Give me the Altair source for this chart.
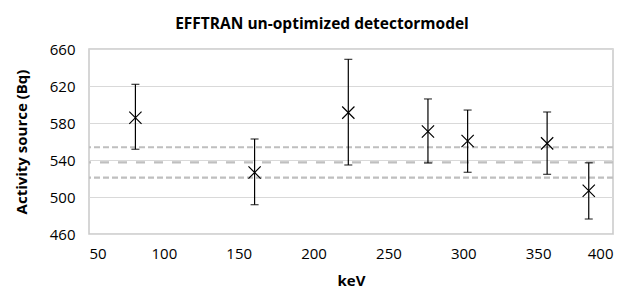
import altair as alt
import pandas as pd

energy = [81.0, 160.6, 223.2, 276.4, 302.9, 356.0, 383.8]
activity = [585.7, 526.5, 591.2, 570.8, 560.5, 558.0, 506.8]
err_low = [551.6, 491.7, 534.6, 536.8, 526.7, 524.5, 476.2]
err_high = [621.8, 562.7, 648.8, 606.0, 594.0, 591.9, 537.0]

ref_names = ["upper", "mean", "lower"]
ref_values = [553.8, 537.5, 521.0]
ref_dash = [[6, 3], [9, 9], [6, 3]]

df = pd.DataFrame({"keV": energy, "act": activity, "lo": err_low, "hi": err_high})
ref = pd.DataFrame({"name": ref_names, "v": ref_values})

FONT = "Open Sans"
YS = alt.Scale(domain=[460, 660], nice=False, zero=False)
XS = alt.Scale(domain=[50, 400], nice=False, zero=False)

XAX = alt.Axis(values=[50, 100, 150, 200, 250, 300, 350, 400], title="keV",
               grid=False, ticks=False, domain=False, labelPadding=12,
               titlePadding=12, labelFont=FONT, labelFontSize=15,
               labelColor="#000000", titleFont=FONT, titleFontSize=15,
               titleFontWeight="bold", titleColor="#000000")
YAX = alt.Axis(values=[460, 500, 540, 580, 620, 660], title="Activity source (Bq)",
               grid=True, ticks=False, domain=False, labelPadding=14,
               titlePadding=20, labelOverlap=False, gridColor="#D9D9D9",
               gridWidth=1.2, labelFont=FONT, labelFontSize=15,
               labelColor="#000000", titleFont=FONT, titleFontSize=15,
               titleFontWeight="bold", titleColor="#000000")

base = alt.Chart(df)

refs = []
for n, v, d in zip(ref_names, ref_values, ref_dash):
    refs.append(
        alt.Chart(ref[ref["name"] == n]).mark_rule(color="#BFBFBF", strokeWidth=2.2, strokeDash=d)
        .encode(y=alt.Y("v:Q", scale=YS, axis=YAX))
    )

pts = base.mark_point(shape="M-1,-1L1,1M1,-1L-1,1", filled=False, color="black",
                      strokeWidth=1.2, size=150, opacity=1).encode(
    x=alt.X("keV:Q", scale=XS, axis=XAX), y=alt.Y("act:Q", scale=YS, axis=YAX))
bars = base.mark_rule(color="black", strokeWidth=1.2).encode(
    x=alt.X("keV:Q", scale=XS, axis=XAX), y=alt.Y("lo:Q", scale=YS, axis=YAX), y2="hi:Q")
cap_lo = base.mark_tick(color="black", orient="horizontal", size=8, thickness=1.3).encode(
    x=alt.X("keV:Q", scale=XS, axis=XAX), y=alt.Y("lo:Q", scale=YS, axis=YAX))
cap_hi = base.mark_tick(color="black", orient="horizontal", size=8, thickness=1.3).encode(
    x=alt.X("keV:Q", scale=XS, axis=XAX), y=alt.Y("hi:Q", scale=YS, axis=YAX))

chart = alt.layer(*refs, bars, cap_lo, cap_hi, pts).properties(
    width=524, height=185,
    background="white",
    title=alt.TitleParams("EFFTRAN un-optimized detectormodel", font=FONT, fontSize=15.5,
                          fontWeight="bold", color="#000000", anchor="middle", dx=-29,
                          offset=10),
    autosize=alt.AutoSizeParams(type="none"),
    padding={"left": 81, "top": 41, "right": 9, "bottom": 56},
).configure_view(stroke="#C9C9C9", strokeWidth=1.5)

chart.save("out.html", embed_options={"renderer": "svg", "actions": False})
